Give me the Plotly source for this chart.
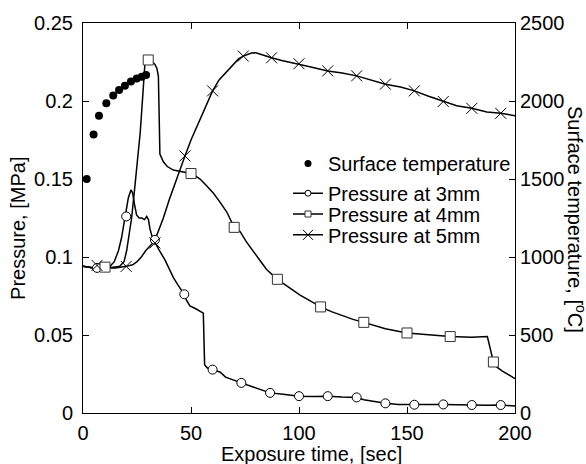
import plotly.graph_objects as go

# ---------------- data ----------------
# Surface temperature (right axis, degC)
t_surf = [1.7, 4.9, 7.4, 10.8, 14.0, 16.7, 19.4, 22.2, 24.9, 27.2, 29.2]
T_surf = [1500, 1785, 1905, 1985, 2035, 2070, 2097, 2125, 2144, 2156, 2167]

# Pressure at 3 mm (line)
t_p3 = [0, 5, 10, 12.5, 14.5, 16.4, 17.8, 18.7, 19.8, 21, 22.2, 23, 23.8, 24.8, 26,
        27.2, 28.5, 29.5, 30.3, 31, 32, 33, 35, 38, 41.8, 44, 46.9, 48, 49.5, 52,
        54.2, 55.7, 56.3, 57.5, 60, 63.4, 66, 69.6, 73.3, 78.8, 82, 86.6, 92.7, 100,
        107, 113.3, 120, 126.7, 130, 135, 140, 146, 153.4, 160, 166.8, 173, 180, 187,
        193.4, 200]
p_p3 = [0.094, 0.093, 0.093, 0.094, 0.097, 0.104, 0.112, 0.119, 0.127, 0.138, 0.143,
        0.141, 0.134, 0.127, 0.125, 0.125, 0.124, 0.126, 0.124, 0.118, 0.113, 0.110,
        0.105, 0.098, 0.087, 0.082, 0.076, 0.072, 0.0687, 0.067, 0.0655, 0.064, 0.031,
        0.029, 0.0275, 0.0263, 0.023, 0.021, 0.0193, 0.0167, 0.015, 0.0129, 0.012,
        0.0108, 0.0105, 0.0108, 0.0102, 0.0100, 0.0085, 0.0075, 0.0062, 0.0055, 0.0053,
        0.0055, 0.0055, 0.0052, 0.0051, 0.0050, 0.0051, 0.0045]
t_p3_mark = [6.5, 20, 33.3, 46.9, 60, 73.3, 86.6, 100, 113.3, 126.7, 140, 153.4, 166.8, 180, 193.4]
p_p3_mark = [0.093, 0.126, 0.111, 0.0761, 0.0278, 0.0193, 0.0129, 0.0108, 0.0108, 0.0100,
             0.0062, 0.0053, 0.0055, 0.0051, 0.0051]

# Pressure at 4 mm (line)
t_p4 = [0, 5, 10.2, 14, 17, 19, 20.2, 21.5, 22.5, 24, 25.6, 26.5, 27.5, 28.7, 30.2, 31.5,
        33.3, 34.2, 34.9, 35.3, 35.6, 37.2, 39, 41.8, 44, 48, 50, 52, 54.2, 57, 60.3, 63,
        66.5, 70, 72.7, 75.5, 78.8, 82, 85, 90, 95.8, 100.5, 105, 110, 115, 120, 125, 130,
        135, 140, 150, 160, 170, 180, 187.2, 190, 191.5, 194, 197, 200]
p_p4 = [0.094, 0.093, 0.0935, 0.0935, 0.094, 0.097, 0.104, 0.115, 0.125, 0.145, 0.167,
        0.180, 0.200, 0.2245, 0.2265, 0.226, 0.2235, 0.221, 0.216, 0.190, 0.166, 0.161,
        0.158, 0.1557, 0.155, 0.154, 0.1535, 0.152, 0.150, 0.146, 0.141, 0.136, 0.129,
        0.119, 0.1164, 0.110, 0.1037, 0.098, 0.092, 0.0857, 0.080, 0.0755, 0.072, 0.068,
        0.065, 0.0625, 0.060, 0.0581, 0.056, 0.054, 0.0513, 0.050, 0.049, 0.0485, 0.049,
        0.0327, 0.0295, 0.027, 0.0245, 0.022]
t_p4_mark = [10.2, 30.2, 50, 70, 90, 110, 130, 150, 170, 190]
p_p4_mark = [0.0935, 0.2263, 0.1535, 0.119, 0.0857, 0.068, 0.0581, 0.0513, 0.049, 0.0327]

# Pressure at 5 mm (line)
t_p5 = [0, 5, 10, 15, 20, 23, 25, 27, 29, 31, 33, 35, 37.2, 40, 43, 47.2, 50, 54.2, 57,
        60, 63, 66, 68, 70, 72, 74.2, 76, 78, 80, 83, 87.3, 92, 98.9, 105, 113.3, 120,
        126.7, 133, 140, 147, 153.4, 160, 166.8, 173, 180, 187, 193.4, 200]
p_p5 = [0.094, 0.093, 0.093, 0.093, 0.094, 0.095, 0.097, 0.100, 0.104, 0.107, 0.110,
        0.117, 0.125, 0.137, 0.149, 0.1648, 0.175, 0.1885, 0.198, 0.2065, 0.2135, 0.218,
        0.2214, 0.224, 0.227, 0.2288, 0.2300, 0.2308, 0.2309, 0.2295, 0.2277, 0.226,
        0.224, 0.222, 0.2193, 0.218, 0.2161, 0.2135, 0.2108, 0.209, 0.2065, 0.203,
        0.1997, 0.197, 0.1953, 0.193, 0.1921, 0.1906]
t_p5_mark = [6.5, 20, 33.3, 47.2, 60, 74.2, 87.3, 100, 113.3, 126.7, 140, 153.4, 166.8, 180, 193.4]
p_p5_mark = [0.0946, 0.094, 0.109, 0.1648, 0.2065, 0.2288, 0.2277, 0.2239, 0.2193, 0.2161,
             0.2108, 0.2065, 0.1997, 0.1953, 0.1921]

# axis ticks
x_ticks = [0, 50, 100, 150, 200]
x_ticklabels = ["0", "50", "100", "150", "200"]
y_ticks = [0, 0.05, 0.1, 0.15, 0.2, 0.25]
y_ticklabels = ["0", "0.05", "0.1", "0.15", "0.2", "0.25"]
y2_ticks = [0, 500, 1000, 1500, 2000, 2500]
y2_ticklabels = ["0", "500", "1000", "1500", "2000", "2500"]

# ---------------- figure ----------------
FONT = "Liberation Sans, Arial, sans-serif"
FS = 20
W, H = 586, 464
L, R, T, B = 83, 71, 20, 51
LW = 1.5

fig = go.Figure()

line_style = dict(color="black", width=LW)
series = [
    (t_p3, p_p3, t_p3_mark, p_p3_mark,
     dict(symbol="circle", size=9, color="white", line=dict(color="black", width=1)),
     dict(symbol="circle", size=6, color="white", line=dict(color="black", width=1)),
     "Pressure at 3mm", "legend2"),
    (t_p4, p_p4, t_p4_mark, p_p4_mark,
     dict(symbol="square", size=10, color="white", line=dict(color="#333333", width=1)),
     dict(symbol="square", size=6, color="white", line=dict(color="#333333", width=1)),
     "Pressure at 4mm", "legend3"),
    (t_p5, p_p5, t_p5_mark, p_p5_mark,
     dict(symbol="x-thin-open", size=11, color="black", line=dict(color="black", width=1)),
     dict(symbol="x-thin-open", size=10, color="black", line=dict(color="black", width=1)),
     "Pressure at 5mm", "legend4"),
]

for tl, pl, tm, pm, mk, mk_leg, name, lg in series:
    fig.add_trace(go.Scatter(x=tl, y=pl, mode="lines", line=line_style,
                             showlegend=False, hoverinfo="skip"))
for tl, pl, tm, pm, mk, mk_leg, name, lg in series:
    fig.add_trace(go.Scatter(x=tm, y=pm, mode="markers", marker=mk,
                             showlegend=False, name=name))
    fig.add_trace(go.Scatter(x=[None], y=[None], mode="lines+markers", name=name,
                             line=line_style, marker=mk_leg, legend=lg))

fig.add_trace(go.Scatter(x=t_surf, y=T_surf, mode="markers", yaxis="y2",
                         marker=dict(symbol="circle", size=8, color="black"),
                         name="Surface temperature", showlegend=False))
fig.add_trace(go.Scatter(x=[None], y=[None], mode="markers", yaxis="y2",
                         marker=dict(symbol="circle", size=7, color="black"),
                         name="Surface temperature", legend="legend"))

axis_common = dict(showline=True, linecolor="black", linewidth=1, ticks="inside",
                   ticklen=6, tickwidth=1, tickcolor="black", showgrid=False,
                   zeroline=False, tickfont=dict(family=FONT, size=FS, color="black"))

fig.update_layout(
    width=W, height=H,
    margin=dict(l=L, r=R, t=T, b=B, pad=0),
    paper_bgcolor="white", plot_bgcolor="white",
    font=dict(family=FONT, size=FS, color="black"),
    xaxis=dict(range=[0, 200], tickvals=x_ticks, ticktext=x_ticklabels,
               mirror="ticks", ticklabelstandoff=2, **axis_common),
    yaxis=dict(range=[0, 0.25], tickvals=y_ticks, ticktext=y_ticklabels,
               mirror=False, ticklabelstandoff=5, **axis_common),
    yaxis2=dict(range=[0, 2500], tickvals=y2_ticks, ticktext=y2_ticklabels,
                overlaying="y", side="right", **axis_common),
)

pw = W - L - R
ph = H - T - B
def px2paper_x(px):
    return (px - L) / pw
def px2paper_y(py):
    return (H - B - py) / ph

leg_common = dict(bgcolor="rgba(0,0,0,0)", borderwidth=0, xanchor="left",
                  yanchor="middle", font=dict(family=FONT, size=FS, color="black"),
                  itemsizing="trace")
leg_x = px2paper_x(288)
fig.update_layout(
    legend=dict(x=leg_x, y=px2paper_y(161.5), **leg_common),
    legend2=dict(x=leg_x, y=px2paper_y(191.5), **leg_common),
    legend3=dict(x=leg_x, y=px2paper_y(212.5), **leg_common),
    legend4=dict(x=leg_x, y=px2paper_y(233.5), **leg_common),
)

fig.add_annotation(text="Exposure time, [sec]", xref="paper", yref="paper",
                   x=px2paper_x(311), y=px2paper_y(454), showarrow=False,
                   xanchor="center", yanchor="middle",
                   font=dict(family=FONT, size=FS, color="black"))
fig.add_annotation(text="Pressure, [MPa]", xref="paper", yref="paper",
                   x=px2paper_x(18.5), y=px2paper_y(227), showarrow=False,
                   textangle=-90, xanchor="center", yanchor="middle",
                   font=dict(family=FONT, size=FS, color="black"))
fig.add_annotation(text="Surface temperature, [<sup>o</sup>C]", xref="paper", yref="paper",
                   x=px2paper_x(576), y=px2paper_y(217.5), showarrow=False,
                   textangle=90, xanchor="center", yanchor="middle",
                   font=dict(family=FONT, size=FS, color="black"))

fig.write_html("out.html")
